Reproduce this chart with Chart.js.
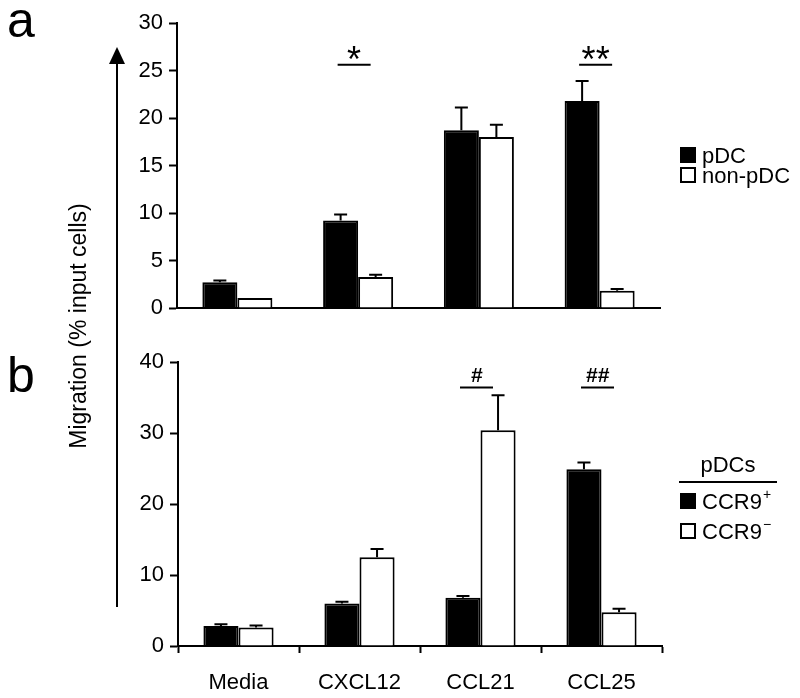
<!DOCTYPE html>
<html><head><meta charset="utf-8">
<script src="https://cdn.jsdelivr.net/npm/chart.js@4/dist/chart.umd.min.js"></script>
<style>
html,body{margin:0;padding:0;background:#fff;width:800px;height:698px;overflow:hidden}
canvas{position:absolute;left:0;top:0}
</style></head><body>
<canvas id="ca" width="800" height="698"></canvas>
<canvas id="cb" width="800" height="698"></canvas>
<script>
// ---- data ----
const categories = ['Media', 'CXCL12', 'CCL21', 'CCL25'];
const aSeriesLabels = ['pDC', 'non-pDC'];
const aPDC = [2.7, 9.2, 18.7, 21.8];
const aPDCErr = [0.2, 0.65, 2.4, 2.1];
const aNonPDC = [1.05, 3.26, 18.0, 1.82];
const aNonPDCErr = [0, 0.25, 1.3, 0.18];
const aTicks = [0, 5, 10, 15, 20, 25, 30];
const bSeriesLabels = ['CCR9+', 'CCR9\u2212'];
const bPos = [2.8, 6.0, 6.8, 24.9];
const bPosErr = [0.25, 0.25, 0.25, 0.95];
const bNeg = [2.6, 12.5, 30.4, 4.75];
const bNegErr = [0.3, 1.15, 4.9, 0.5];
const bTicks = [0, 10, 20, 30, 40];
const aSigCats = ['CXCL12', 'CCL25'];
const aSigMarks = ['*', '**'];
const bSigCats = ['CCL21', 'CCL25'];
const bSigMarks = ['#', '##'];
const yTitle = 'Migration (% input cells)';
const bLegendTitle = 'pDCs';
const panelLetters = ['a', 'b'];

const FONT = '"Liberation Sans", Arial, Helvetica, sans-serif';
Chart.defaults.font.family = FONT;
Chart.defaults.color = '#000';

const errorBars = {
  id: 'errorBars',
  afterDatasetsDraw(chart) {
    const ctx = chart.ctx, y = chart.scales.y;
    chart.data.datasets.forEach((ds, di) => {
      const meta = chart.getDatasetMeta(di);
      meta.data.forEach((bar, i) => {
        const e = ds.errors[i];
        if (!e) return;
        const top = y.getPixelForValue(ds.data[i] + e);
        ctx.save();
        ctx.strokeStyle = '#000'; ctx.lineWidth = 2;
        ctx.beginPath();
        ctx.moveTo(bar.x, bar.y); ctx.lineTo(bar.x, top);
        ctx.moveTo(bar.x - 6.5, top); ctx.lineTo(bar.x + 6.5, top);
        ctx.stroke();
        ctx.restore();
      });
    });
  }
};

const sigPlugin = {
  id: 'sig',
  afterDraw(chart, args, opts) {
    const ctx = chart.ctx, x = chart.scales.x, y = chart.scales.y;
    opts.cats.forEach((c, i) => {
      const cx = x.getPixelForValue(categories.indexOf(c)) - 4;
      const ly = y.getPixelForValue(opts.level);
      ctx.save();
      ctx.strokeStyle = '#000'; ctx.lineWidth = 2;
      ctx.beginPath(); ctx.moveTo(cx - 16.5, ly); ctx.lineTo(cx + 16.5, ly); ctx.stroke();
      ctx.fillStyle = '#000';
      ctx.font = opts.font;
      ctx.textAlign = 'center'; ctx.textBaseline = 'alphabetic';
      ctx.fillText(opts.marks[i], cx, ly + opts.dy);
      ctx.restore();
    });
  }
};

const legendPlugin = {
  id: 'customLegend',
  afterDraw(chart, args, opts) {
    const ctx = chart.ctx;
    ctx.save();
    if (opts.title) {
      ctx.font = '22px ' + FONT; ctx.fillStyle = '#000';
      ctx.textAlign = 'center'; ctx.textBaseline = 'middle';
      ctx.fillText(opts.title, 728, opts.top - 27);
      ctx.strokeStyle = '#000'; ctx.lineWidth = 2;
      ctx.beginPath(); ctx.moveTo(679, opts.top - 11); ctx.lineTo(777, opts.top - 11); ctx.stroke();
    }
    chart.data.datasets.forEach((ds, i) => {
      const y0 = opts.top + i * opts.gap;
      ctx.fillStyle = ds.backgroundColor;
      ctx.fillRect(680, y0, 16, 16);
      ctx.strokeStyle = '#000'; ctx.lineWidth = 2;
      ctx.strokeRect(681, y0 + 1, 14, 14);
      ctx.fillStyle = '#000';
      ctx.textAlign = 'left'; ctx.textBaseline = 'alphabetic';
      let label = ds.label, sup = '';
      if (opts.superscript) { sup = label.slice(-1); label = label.slice(0, -1); }
      ctx.font = '22px ' + FONT;
      ctx.fillText(label, 702, y0 + 16);
      if (sup) {
        const w = ctx.measureText(label).width;
        ctx.font = '14px ' + FONT;
        ctx.fillText(sup, 702 + w + 1, y0 + 6);
      }
    });
    ctx.restore();
  }
};

const decoPlugin = {
  id: 'deco',
  afterDraw(chart) {
    const ctx = chart.ctx;
    ctx.save();
    ctx.fillStyle = '#000';
    ctx.font = '50px ' + FONT;
    ctx.textAlign = 'left'; ctx.textBaseline = 'alphabetic';
    ctx.fillText(panelLetters[0], 7, 37);
    ctx.fillText(panelLetters[1], 7, 392);
    // arrow
    ctx.strokeStyle = '#000'; ctx.lineWidth = 2;
    ctx.beginPath(); ctx.moveTo(117, 607); ctx.lineTo(117, 60); ctx.stroke();
    ctx.beginPath(); ctx.moveTo(117, 47); ctx.lineTo(109, 64); ctx.lineTo(125, 64); ctx.closePath(); ctx.fill();
    // title
    ctx.translate(86, 326);
    ctx.rotate(-Math.PI / 2);
    ctx.font = '23px ' + FONT;
    ctx.textAlign = 'center'; ctx.textBaseline = 'alphabetic';
    ctx.fillText(yTitle, 0, 0);
    ctx.restore();
  }
};

function yScale(ticks) {
  return {
    min: ticks[0], max: ticks[ticks.length - 1],
    afterBuildTicks: s => { s.ticks = ticks.map(v => ({ value: v })); },
    afterFit: s => { s.width = 60; },
    grid: { display: true, drawOnChartArea: false, drawTicks: true, tickLength: 8, tickWidth: 2, tickColor: '#000', color: '#000' },
    border: { display: true, color: '#000', width: 2 },
    ticks: { font: { size: 22 }, color: '#000', padding: 6 }
  };
}

function makeDatasets(labels, s1, e1, s2, e2) {
  return [
    { label: labels[0], data: s1, errors: e1, backgroundColor: '#000', borderColor: '#000', borderWidth: 2 },
    { label: labels[1], data: s2, errors: e2, backgroundColor: '#fff', borderColor: '#000', borderWidth: 2 }
  ];
}

new Chart(document.getElementById('ca'), {
  type: 'bar',
  data: { labels: categories, datasets: makeDatasets(aSeriesLabels, aPDC, aPDCErr, aNonPDC, aNonPDCErr) },
  options: {
    responsive: false, animation: false, devicePixelRatio: 1,
    layout: { padding: { left: 117, right: 140, top: 23, bottom: 380 } },
    datasets: { bar: { categoryPercentage: 0.58, barPercentage: 1.0 } },
    plugins: {
      legend: { display: false }, tooltip: { enabled: false },
      sig: { cats: aSigCats, marks: aSigMarks, level: 25.6, dy: 7, font: '36px ' + FONT },
      customLegend: { top: 147, gap: 20 }
    },
    scales: {
      x: {
        afterFit: s => { s.height = 10; },
        grid: { display: true, drawOnChartArea: false, drawTicks: false },
        border: { display: true, color: '#000', width: 2 },
        ticks: { display: false }
      },
      y: yScale(aTicks)
    }
  },
  plugins: [errorBars, sigPlugin, legendPlugin, decoPlugin]
});

new Chart(document.getElementById('cb'), {
  type: 'bar',
  data: { labels: categories, datasets: makeDatasets(bSeriesLabels, bPos, bPosErr, bNeg, bNegErr) },
  options: {
    responsive: false, animation: false, devicePixelRatio: 1,
    layout: { padding: { left: 118, right: 138, top: 362, bottom: 2 } },
    datasets: { bar: { categoryPercentage: 0.58, barPercentage: 1.0 } },
    plugins: {
      legend: { display: false }, tooltip: { enabled: false },
      sig: { cats: bSigCats, marks: bSigMarks, level: 36.4, dy: -6, font: 'bold italic 21px ' + FONT },
      customLegend: { top: 493, gap: 30, title: bLegendTitle, superscript: true }
    },
    scales: {
      x: {
        afterFit: s => { s.height = 50; },
        grid: { display: true, drawOnChartArea: false, drawTicks: true, tickLength: 7, tickWidth: 2, tickColor: '#000', color: '#000', offset: true },
        border: { display: true, color: '#000', width: 2 },
        ticks: { font: { size: 22 }, color: '#000', padding: 17 }
      },
      y: yScale(bTicks)
    }
  },
  plugins: [errorBars, sigPlugin, legendPlugin]
});
</script>
</body></html>
